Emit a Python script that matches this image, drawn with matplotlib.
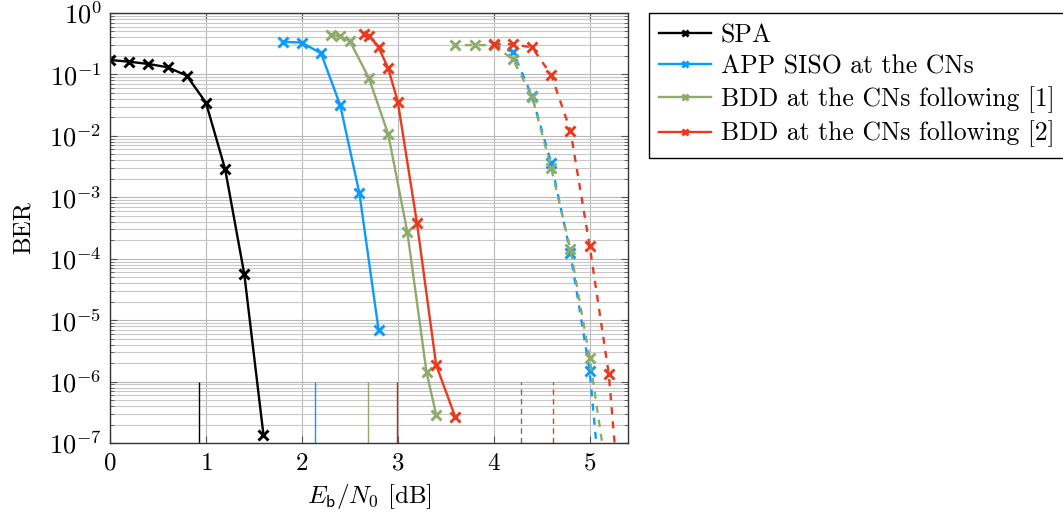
import matplotlib
matplotlib.use("Agg")
import matplotlib.pyplot as plt
import numpy as np
from matplotlib.ticker import LogLocator, LogFormatterMathtext, NullFormatter, FixedLocator

plt.rcParams['font.family'] = ['cmr10', 'DejaVu Serif']
plt.rcParams['mathtext.fontset'] = 'cm'
plt.rcParams['axes.formatter.use_mathtext'] = True

# ---- data ----
spa_x = [0.0, 0.2, 0.4, 0.6, 0.8, 1.0, 1.2, 1.4, 1.6]
spa_y = [0.172, 0.161, 0.148, 0.131, 0.0955, 0.0347, 2.88e-3, 5.6e-5, 1.35e-7]

app_x = [1.8, 2.0, 2.2, 2.4, 2.6, 2.8]
app_y = [0.341, 0.329, 0.221, 0.0315, 1.16e-3, 6.9e-6]

bdd1_x = [2.3, 2.4, 2.5, 2.7, 2.9, 3.1, 3.3, 3.4]
bdd1_y = [0.438, 0.42, 0.35, 0.0865, 0.0107, 2.7e-4, 1.41e-6, 2.9e-7]

bdd2_x = [2.65, 2.7, 2.8, 2.9, 3.0, 3.2, 3.4, 3.6]
bdd2_y = [0.45, 0.43, 0.276, 0.126, 0.036, 3.8e-4, 1.86e-6, 2.63e-7]

app_d_x = [4.0, 4.2, 4.4, 4.6, 4.8, 5.0, 5.2]
app_d_y = [0.30, 0.234, 0.044, 3.6e-3, 1.22e-4, 1.49e-6, 6e-10]

bdd1_d_x = [3.6, 3.8, 4.0, 4.2, 4.4, 4.6, 4.8, 5.0, 5.2]
bdd1_d_y = [0.30, 0.30, 0.30, 0.176, 0.0434, 2.96e-3, 1.42e-4, 2.45e-6, 1.8e-8]

bdd2_d_x = [4.0, 4.2, 4.4, 4.6, 4.8, 5.0, 5.2, 5.4]
bdd2_d_y = [0.31, 0.31, 0.276, 0.098, 0.0121, 1.63e-4, 1.31e-6, 2.5e-10]

limit_solid_x = [0.93, 2.14, 2.69, 2.99]
limit_dashed_x = [4.28, 4.62]

labels = ["SPA", "APP SISO at the CNs", "BDD at the CNs following [1]",
          "BDD at the CNs following [2]"]

c_black = '#000000'
c_blue = '#0a9bff'
c_green = '#8fab6b'
c_red = '#ea3a1e'

fig = plt.figure(figsize=(10.63, 5.19), dpi=100)
ax = fig.add_axes([110/1063, 76/519, 518/1063, 430/519])

lw = 1.7
mk = dict(marker='x', markersize=6.5, markeredgewidth=2.1)

h1, = ax.plot(spa_x, spa_y, color=c_black, lw=lw, **mk)
h2, = ax.plot(app_x, app_y, color=c_blue, lw=lw, **mk)
h3, = ax.plot(bdd1_x, bdd1_y, color=c_green, lw=lw, **mk)
h4, = ax.plot(bdd2_x, bdd2_y, color=c_red, lw=lw, **mk)

ds = (0, (3.0, 3.0))
ax.plot(app_d_x, app_d_y, color=c_blue, lw=lw, ls=ds, **mk)
ax.plot(bdd1_d_x, bdd1_d_y, color=c_green, lw=lw, ls=(2, (3.0, 3.0)), **mk)
ax.plot(bdd2_d_x, bdd2_d_y, color=c_red, lw=lw, ls=ds, **mk)

ax.vlines(limit_solid_x, 1e-7, 1e-6, colors=[c_black, c_blue, c_green, '#b03020'], lw=1.0)
ax.vlines(limit_dashed_x, 1e-7, 1e-6, colors=['#707070', c_red], lw=1.0, linestyles=(0, (4, 3)))

ax.set_yscale('log')
ax.set_xlim(0, 5.4)
ax.set_ylim(1e-7, 1)
ax.xaxis.set_major_locator(FixedLocator([0, 1, 2, 3, 4, 5]))
ax.yaxis.set_major_locator(LogLocator(base=10, numticks=20))
ax.yaxis.set_minor_locator(LogLocator(base=10, subs=np.arange(2, 10), numticks=20))
ax.yaxis.set_major_formatter(LogFormatterMathtext())
ax.yaxis.set_minor_formatter(NullFormatter())

ax.grid(True, which='major', color='#b8b8b8', lw=0.8)
ax.grid(True, which='minor', axis='y', color='#c8c8c8', lw=0.8)
ax.set_axisbelow(True)

ax.tick_params(which='both', direction='in', top=True, right=True, color='#555555')
ax.tick_params(which='major', length=5, width=0.8)
ax.tick_params(axis='x', which='major', pad=7, labelsize=18)
ax.tick_params(axis='y', which='major', pad=6, labelsize=19)
ax.tick_params(which='minor', length=3, width=0.6)
for s in ax.spines.values():
    s.set_linewidth(1.0)
    s.set_color('#333333')

ax.set_xlabel(r'$E_{\mathsf{b}}/N_0$ [dB]', fontsize=18, labelpad=5)
ax.set_ylabel('BER', fontsize=18, labelpad=10)

leg = fig.legend([h1, h2, h3, h4], labels, loc='upper left',
                 bbox_to_anchor=(649/1063, 1 - 13/519), fontsize=18.5,
                 fancybox=False, edgecolor='black', framealpha=1,
                 handlelength=2.0, handletextpad=0.4, labelspacing=0.3,
                 borderpad=0.4, borderaxespad=0)
leg.get_frame().set_linewidth(1.0)
for lh in leg.legend_handles:
    lh.set_markersize(4)

fig.savefig('out.png', dpi=100)
